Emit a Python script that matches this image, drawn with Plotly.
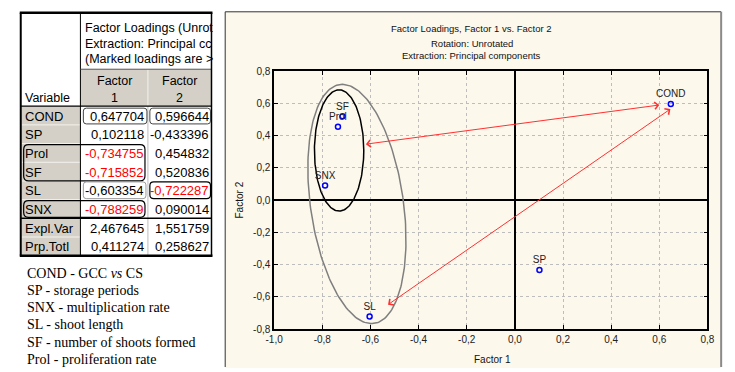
import numpy as np
import plotly.graph_objects as go

W, H = 735, 372

# ---------------- data ----------------
variables = ["COND", "SP", "Prol", "SF", "SL", "SNX"]
factor1 = [0.647704, 0.102118, -0.734755, -0.715852, -0.603354, -0.788259]
factor2 = [0.596644, -0.433396, 0.454832, 0.520836, -0.722287, 0.090014]
marked_f1 = [False, False, True, True, False, True]
marked_f2 = [False, False, False, False, True, False]
summary_rows = ["Expl.Var", "Prp.Totl"]
summary_f1 = [2.467645, 0.411274]
summary_f2 = [1.551759, 0.258627]
header_lines = ["Factor Loadings (Unrot", "Extraction: Principal cc", "(Marked loadings are >"]
legend_lines = [
    "COND - GCC <i>vs</i> CS",
    "SP - storage periods",
    "SNX - multiplication rate",
    "SL - shoot length",
    "SF - number of shoots formed",
    "Prol - proliferation rate",
]
x_ticks = [-1.0, -0.8, -0.6, -0.4, -0.2, 0.0, 0.2, 0.4, 0.6, 0.8]
y_ticks = [-0.8, -0.6, -0.4, -0.2, 0.0, 0.2, 0.4, 0.6, 0.8]
chart_titles = ["Factor Loadings, Factor 1 vs. Factor 2", "Rotation: Unrotated",
                "Extraction: Principal components"]

# ---------------- layout geometry (pixels) ----------------
PLOT_L, PLOT_R, PLOT_T, PLOT_B = 271, 714, 68, 333
XR = [-1.0, 0.8]
YR = [-0.8, 0.8]
PXX = (PLOT_R - PLOT_L) / (XR[1] - XR[0])
PXY = (PLOT_B - PLOT_T) / (YR[1] - YR[0])


def px(x):
    return x / W


def py(y):
    return 1 - y / H


def fmt(v, nd=6):
    return f"{v:.{nd}f}".replace(".", ",")


shapes = []
annotations = []

SANS = "Liberation Sans, Arial, sans-serif"
SERIF = "Liberation Serif, Times New Roman, serif"


def rect(x0, y0, x1, y1, fill="rgba(0,0,0,0)", color="rgba(0,0,0,0)", width=0, layer="below"):
    shapes.append(dict(type="rect", xref="paper", yref="paper",
                       x0=px(x0), x1=px(x1), y0=py(y1), y1=py(y0),
                       fillcolor=fill, line=dict(color=color, width=width), layer=layer))


def hline(x0, x1, y, color="black", width=1, layer="above"):
    shapes.append(dict(type="line", xref="paper", yref="paper",
                       x0=px(x0), x1=px(x1), y0=py(y), y1=py(y),
                       line=dict(color=color, width=width), layer=layer))


def vline(x, y0, y1, color="black", width=1, layer="above"):
    shapes.append(dict(type="line", xref="paper", yref="paper",
                       x0=px(x), x1=px(x), y0=py(y0), y1=py(y1),
                       line=dict(color=color, width=width), layer=layer))


def rrect(x0, y0, x1, y1, r=4, color="black", width=1):
    X0, X1 = px(x0), px(x1)
    Y0, Y1 = py(y0), py(y1)  # Y0 top (higher), Y1 bottom
    rx, ry = r / W, r / H
    path = (f"M{X0+rx},{Y0} L{X1-rx},{Y0} Q{X1},{Y0} {X1},{Y0-ry} "
            f"L{X1},{Y1+ry} Q{X1},{Y1} {X1-rx},{Y1} "
            f"L{X0+rx},{Y1} Q{X0},{Y1} {X0},{Y1+ry} "
            f"L{X0},{Y0-ry} Q{X0},{Y0} {X0+rx},{Y0} Z")
    shapes.append(dict(type="path", xref="paper", yref="paper", path=path,
                       line=dict(color=color, width=width), layer="above"))


def text(x, y, s, size=13, color="black", xanchor="left", family=SANS, angle=0):
    annotations.append(dict(x=px(x), y=py(y), xref="paper", yref="paper", text=s,
                            showarrow=False, xanchor=xanchor, yanchor="middle",
                            font=dict(family=family, size=size, color=color),
                            textangle=angle, borderpad=0))


# ---------------- chart panel ----------------
rect(221, 7, 728, 373, fill="#FDF8EC")
vline(221, 7, 372, color="#333333", width=1)
hline(221, 728, 7, color="#333333", width=1)
vline(728, 7, 372, color="#8A8A8A", width=2)

# ---------------- table ----------------
T_L, T_R, T_T = 12, 207, 8
C1, C2 = 73, 142
HDR_B = 66
ROW0 = 104
ROWH = 19.2
all_rows = variables + summary_rows
T_B = ROW0 + ROWH * len(all_rows)
GRAY = "#D4D0C8"

rect(T_L, T_T, T_R, T_B, fill="white")
rect(C1, HDR_B, T_R, ROW0, fill=GRAY)
rect(T_L, ROW0, C1, T_B, fill=GRAY)
for i in range(1, len(all_rows)):
    hline(T_L + 1, C1, ROW0 + i * ROWH, color="#F4F2EE", width=1)
vline(C2, HDR_B, ROW0, color="#F4F2EE", width=1)
vline(C2, ROW0, T_B, color="#BDBDBD", width=1)
vline(C1, T_T, T_B, color="black", width=1)
hline(C1, T_R, HDR_B, color="#555555", width=1)
hline(T_L, T_R, ROW0, color="black", width=1.2)
hline(T_L, T_R, ROW0 + ROWH * len(variables), color="black", width=1.5)
# outer border
hline(T_L - 1, T_R + 1, T_T, color="black", width=2.5)
hline(T_L - 1, T_R + 1, T_B, color="black", width=2.5)
vline(T_L, T_T, T_B, color="black", width=2)
vline(T_R, T_T, T_B, color="black", width=1.5)

for k, line in enumerate(header_lines):
    text(C1 + 4, 24 + k * 16, line, size=12.5)
text(T_L + 3, 96, "Variable", size=12.5)
for cx0, cx1, lab in [(C1, C2, "1"), (C2, T_R, "2")]:
    text((cx0 + cx1) / 2, 78, "Factor", size=12.5, xanchor="center")
    text((cx0 + cx1) / 2, 96, lab, size=12.5, xanchor="center")

f1_all = factor1 + summary_f1
f2_all = factor2 + summary_f2
m1_all = marked_f1 + [False] * len(summary_rows)
m2_all = marked_f2 + [False] * len(summary_rows)
for i, name in enumerate(all_rows):
    yc = ROW0 + ROWH * i + ROWH / 2 + 0.5
    text(T_L + 3, yc, name, size=13)
    text(C2 - 3, yc, fmt(f1_all[i]), size=13, xanchor="right",
         color="#FF0000" if m1_all[i] else "black")
    text(T_R - 2, yc, fmt(f2_all[i]), size=13, xanchor="right",
         color="#FF0000" if m2_all[i] else "black")

# marked boxes
rrect(C1 + 3, ROW0 + 2, C2 - 1, ROW0 + ROWH - 1, r=3, color="#444444", width=1)
rrect(C2 + 2, ROW0 + 2, T_R - 1, ROW0 + ROWH - 1, r=3, color="#444444", width=1)
rrect(T_L + 3, ROW0 + 2 * ROWH + 1, C2 - 3, ROW0 + 4 * ROWH, r=5, color="black", width=1.2)
rrect(C1 + 3, ROW0 + 4 * ROWH + 1, C2 - 2, ROW0 + 5 * ROWH - 1, r=3, color="#9A9A9A", width=1)
rrect(C2 + 2, ROW0 + 4 * ROWH + 1, T_R - 1, ROW0 + 5 * ROWH - 1, r=4, color="black", width=1.2)
rrect(T_L + 3, ROW0 + 5 * ROWH + 1, C2 - 3, ROW0 + 6 * ROWH - 1, r=5, color="black", width=1.2)

# legend text below table
for k, line in enumerate(legend_lines):
    text(17, 276 + k * 17.6, line, size=14, family=SERIF)

# ---------------- chart titles ----------------
for k, t in enumerate(chart_titles):
    text(473, [24, 40, 52][k], t, size=9.5, xanchor="center", color="#111111")
text(494, 364, "Factor 1", size=10, xanchor="center", color="#111111")
text(236, 200, "Factor 2", size=10, xanchor="center", color="#111111", angle=-90)

# ---------------- ellipses ----------------
t = np.linspace(0, 2 * np.pi, 200)
BLACK_ELL = dict(cx=-0.730, cy=0.308, rx=0.1025, ry=0.376)
bx = BLACK_ELL["cx"] + BLACK_ELL["rx"] * np.cos(t)
by = BLACK_ELL["cy"] + BLACK_ELL["ry"] * np.sin(t)

GRAY_ELL = dict(cx=-0.656, cy=-0.024, a_px=124, b_px=47.5, tilt_deg=8.1)
th = np.radians(GRAY_ELL["tilt_deg"])
ux, uy = -np.sin(th), np.cos(th)
vx, vy = np.cos(th), np.sin(th)
gx_px = GRAY_ELL["a_px"] * np.sin(t) * ux + GRAY_ELL["b_px"] * np.cos(t) * vx
gy_px = GRAY_ELL["a_px"] * np.sin(t) * uy + GRAY_ELL["b_px"] * np.cos(t) * vy
gx = GRAY_ELL["cx"] + gx_px / PXX
gy = GRAY_ELL["cy"] + gy_px / PXY

fig = go.Figure()
fig.add_trace(go.Scatter(x=gx, y=gy, mode="lines", line=dict(color="#7F7F7F", width=1.5),
                         hoverinfo="skip", showlegend=False))
fig.add_trace(go.Scatter(x=bx, y=by, mode="lines", line=dict(color="black", width=1.5),
                         hoverinfo="skip", showlegend=False))
fig.add_trace(go.Scatter(
    x=factor1, y=factor2, mode="markers+text", text=variables, textposition="top center",
    textfont=dict(family=SANS, size=10, color="#222222"),
    marker=dict(symbol="circle-open", size=5, color="#0000FF", line=dict(width=1.5, color="#0000FF")),
    showlegend=False))

# ---------------- arrows ----------------
ARROWS = [
    dict(head=(0.600, 0.590), tail=(-0.625, 0.346)),
    dict(head=(0.646, 0.565), tail=(-0.533, -0.655)),
]
for a in ARROWS:
    annotations.append(dict(x=a["head"][0], y=a["head"][1], ax=a["tail"][0], ay=a["tail"][1],
                            xref="x", yref="y", axref="x", ayref="y", text="",
                            showarrow=True, arrowhead=4, startarrowhead=4, arrowside="end+start",
                            arrowsize=1.4, startarrowsize=1.4, arrowwidth=1, arrowcolor="#FF3030",
                            standoff=0, startstandoff=0))

axis_common = dict(showgrid=True, gridcolor="#BDBDBD", griddash="dot", gridwidth=1,
                   zeroline=True, zerolinecolor="#000000", zerolinewidth=1.5,
                   showline=True, linecolor="black", linewidth=1.5, mirror="allticks",
                   ticks="inside", ticklen=4, tickcolor="black", tickwidth=1,
                   tickfont=dict(family=SANS, size=10, color="#222222"))

fig.update_layout(
    width=W, height=H, margin=dict(l=0, r=0, t=0, b=0),
    paper_bgcolor="white", plot_bgcolor="white",
    xaxis=dict(range=XR, domain=[px(PLOT_L), px(PLOT_R)], tickvals=x_ticks,
               ticktext=[fmt(v, 1) for v in x_ticks], **axis_common),
    yaxis=dict(range=YR, domain=[py(PLOT_B), py(PLOT_T)], tickvals=y_ticks,
               ticktext=[fmt(v, 1) for v in y_ticks], **axis_common),
    shapes=shapes, annotations=annotations, showlegend=False,
)

PAGE_JS = ("document.body.style.margin='0px';"
           "document.documentElement.style.overflow='hidden';"
           "document.body.style.overflow='hidden';")
fig.write_html("out.html", post_script=PAGE_JS, config={"displayModeBar": False})
